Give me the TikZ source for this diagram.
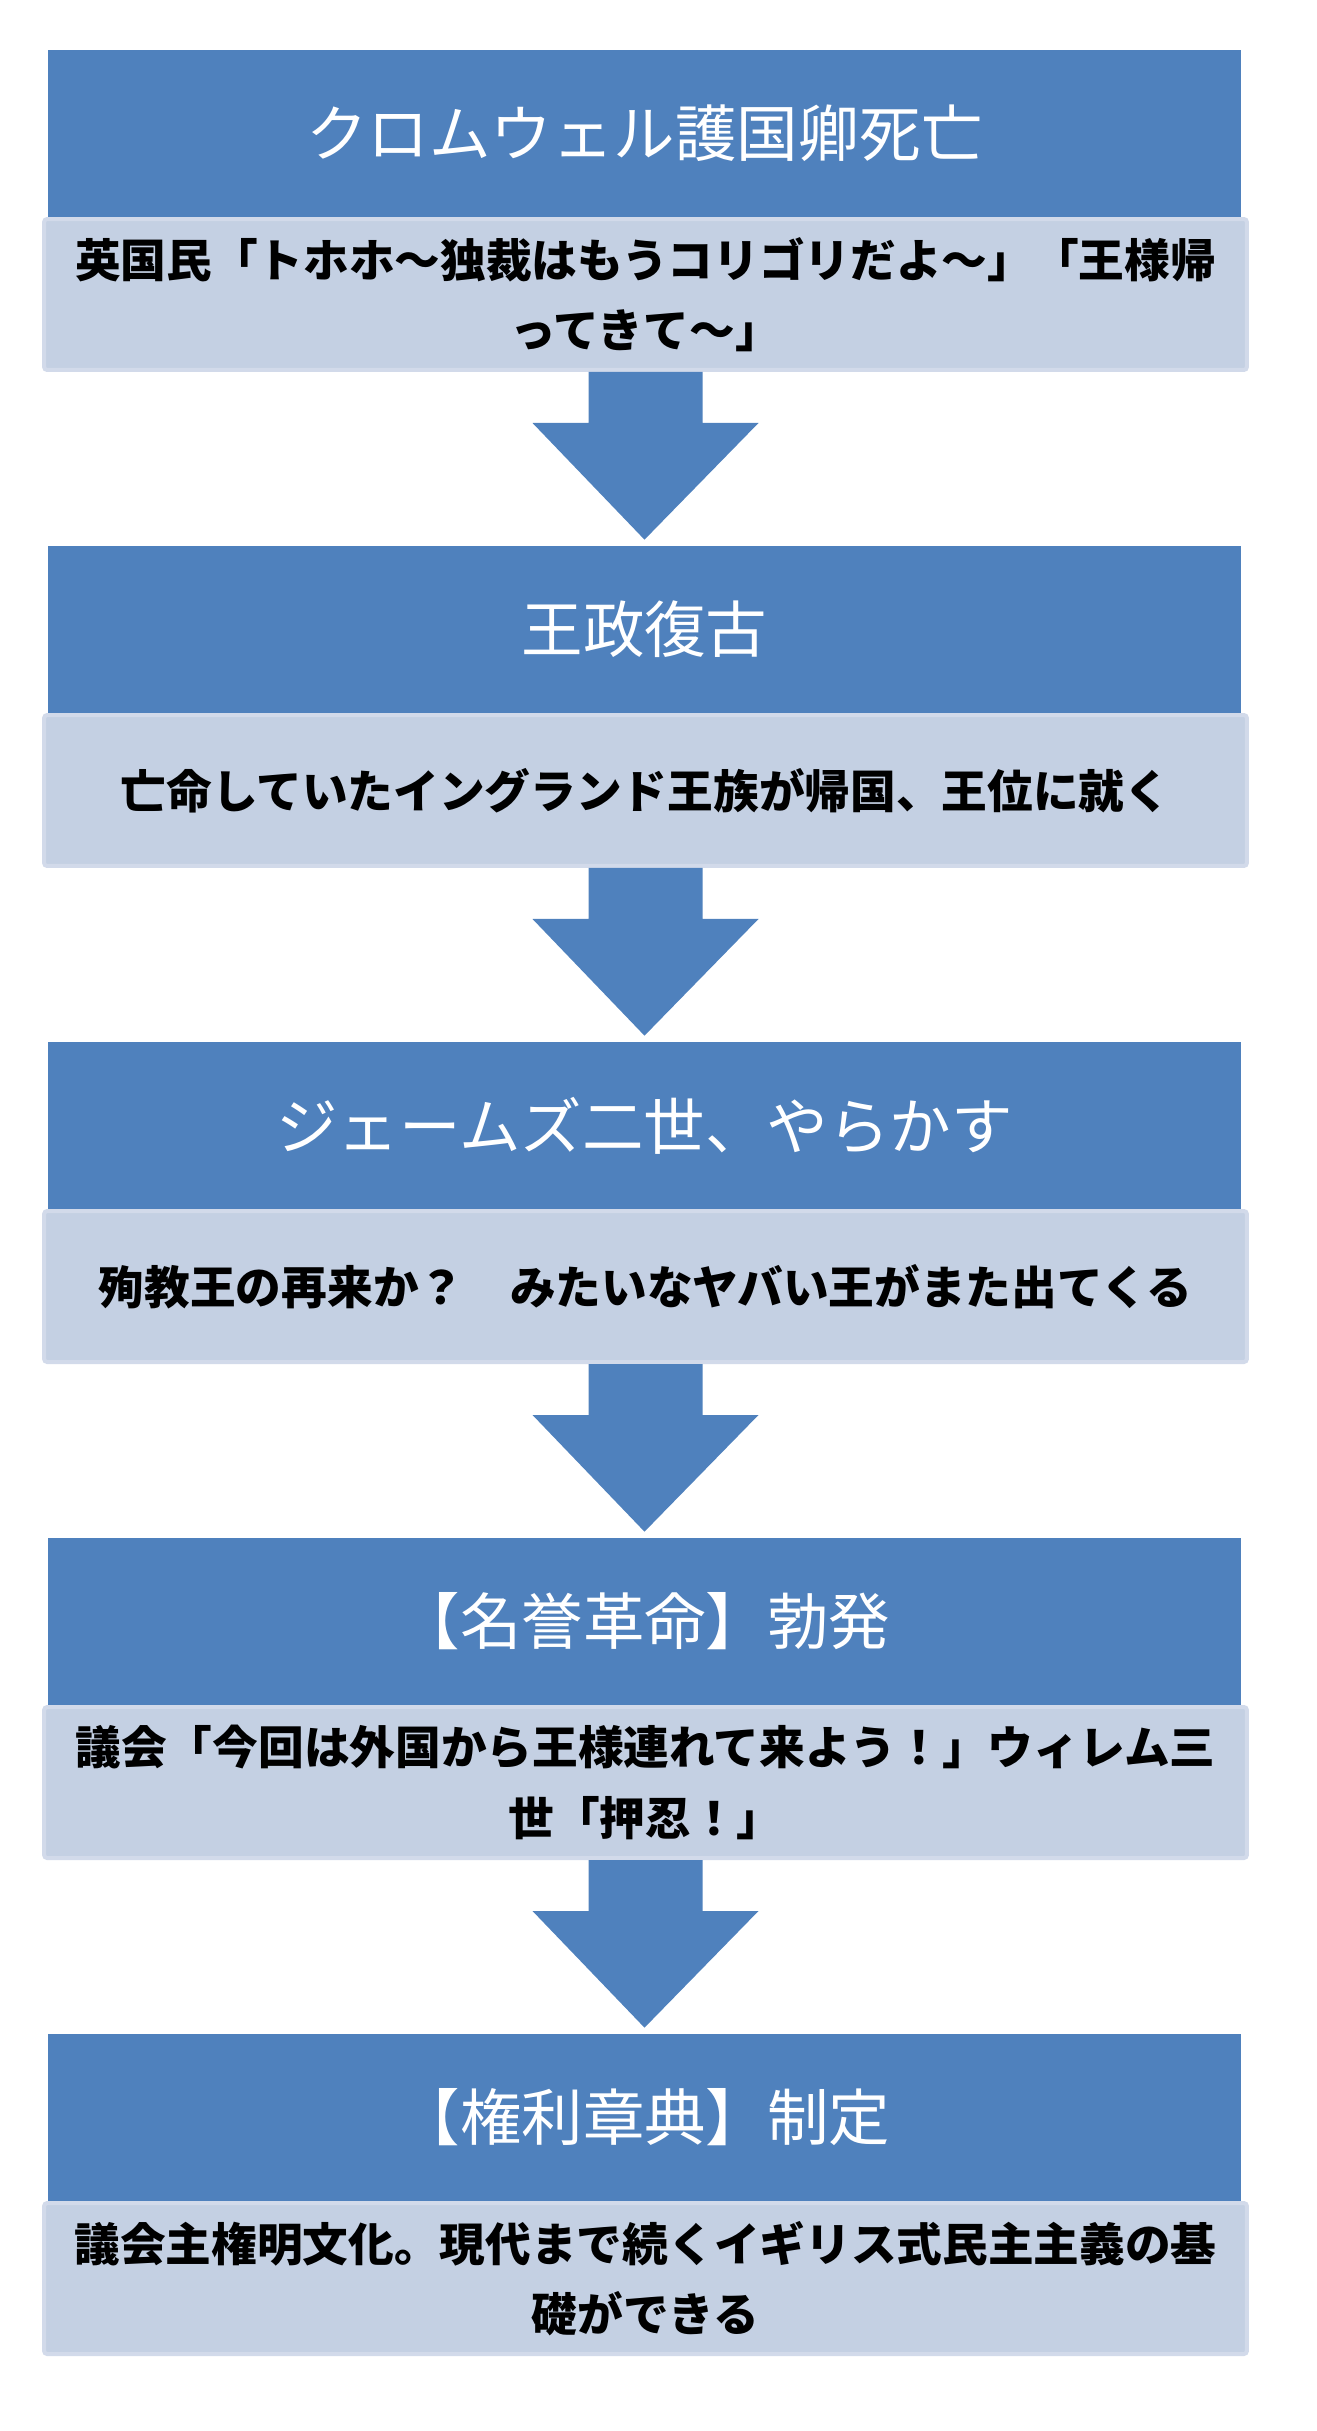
\documentclass[tikz,border=0pt]{standalone}
\usepackage{fontspec}
\newfontfamily\jpfont{Noto Sans CJK JP}
\usetikzlibrary{calc,positioning}
\definecolor{stepblue}{RGB}{79,129,189}
\definecolor{noteblue}{RGB}{196,208,227}
\definecolor{noteedge}{RGB}{210,218,234}

\begin{document}
\begin{tikzpicture}[x=0.02cm, y=-0.02cm,
            titlebox/.style={
            fill=stepblue,
            rectangle,
            inner sep=0,
            minimum width=23.86cm,
            minimum height=3.34cm,
            text=white,
            font=\jpfont\fontsize{35}{42}\selectfont},
            notebox/.style={
            fill=noteblue,
            draw=noteedge,
            line width=0.08cm,
            rounded corners=0.06cm,
            rectangle,
            inner sep=0,
            minimum width=24.06cm,
            minimum height=3.02cm,
            align=center,
            font=\jpfont\bfseries\fontsize{26}{40}\selectfont},
            downarrow/.style={fill=stepblue}]

           \useasboundingbox (0,0) rectangle (1317,2431);

           \foreach \i/\ttl/\dtl in {
                      1/{クロムウェル護国卿死亡}/{英国民「トホホ〜独裁はもうコリゴリだよ〜」「王様帰\\ってきて〜」},
                      2/{王政復古}/{亡命していたイングランド王族が帰国、王位に就く},
                      3/{ジェームズ二世、やらかす}/{殉教王の再来か？　みたいなヤバい王がまた出てくる},
                      4/{【名誉革命】勃発}/{議会「今回は外国から王様連れて来よう！」ウィレム三\\世「押忍！」},
                      5/{【権利章典】制定}/{議会主権明文化。現代まで続くイギリス式民主主義の基\\礎ができる}}
           {
                      \node[titlebox] (t\i) at (644.5, {133.5 + 496*(\i-1)}) {\ttl};
                      \node[notebox] (d\i) at (645.5, {294.5 + 496*(\i-1)}) {\dtl};
           }

           \foreach \i in {1,...,4}
           {
                      \pgfmathtruncatemacro{\nxt}{\i+1}
                      \fill[downarrow] ($(d\i.south)+(-57,0)$) -- ++(0,51) -- ++(-56,0)
                                 -- ($(t\nxt.north)+(0,-6)$)
                                 -- ($(d\i.south)+(113,51)$) -- ++(-56,0) -- ($(d\i.south)+(57,0)$) -- cycle;
           }
\end{tikzpicture}
\end{document}
